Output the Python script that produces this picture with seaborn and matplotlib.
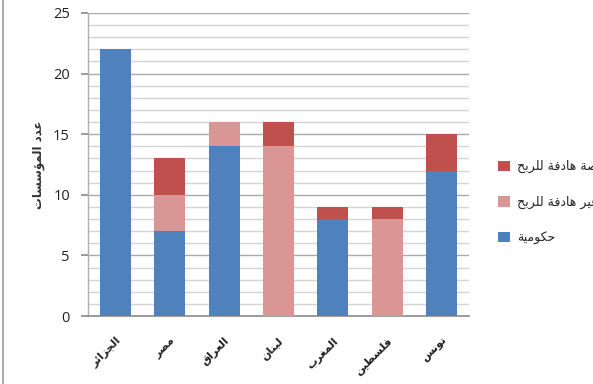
import matplotlib
matplotlib.use("Agg")
import matplotlib.pyplot as plt
import seaborn as sns
import numpy as np
import pandas as pd
from matplotlib.ticker import MultipleLocator
from matplotlib.patches import Patch
from matplotlib.lines import Line2D

# ---- data ----
countries = ["الجزائر", "مصر", "العراق", "لبنان", "المغرب", "فلسطين", "تونس"]
gov = [22, 7, 14, 0, 8, 0, 12]          # حكومية
nonprofit = [0, 3, 2, 14, 0, 8, 0]      # خاصة غير هادفة للربح
profit = [0, 3, 0, 2, 1, 1, 3]          # خاصة هادفة للربح
series_names = ["خاصة هادفة للربح", "خاصة غير هادفة للربح", "حكومية"]
y_label = "عدد المؤسسات"
y_ticks = [0, 5, 10, 15, 20, 25]

# ---- minimal Arabic shaping (presentation forms) for matplotlib ----
FORMS = {
    '\u0627': ('\uFE8D', '\uFE8E', None, None),
    '\u0623': ('\uFE83', '\uFE84', None, None),
    '\u0624': ('\uFE85', '\uFE86', None, None),
    '\u0626': ('\uFE89', '\uFE8A', '\uFE8B', '\uFE8C'),
    '\u0628': ('\uFE8F', '\uFE90', '\uFE91', '\uFE92'),
    '\u0629': ('\uFE93', '\uFE94', None, None),
    '\u062A': ('\uFE95', '\uFE96', '\uFE97', '\uFE98'),
    '\u062C': ('\uFE9D', '\uFE9E', '\uFE9F', '\uFEA0'),
    '\u062D': ('\uFEA1', '\uFEA2', '\uFEA3', '\uFEA4'),
    '\u062E': ('\uFEA5', '\uFEA6', '\uFEA7', '\uFEA8'),
    '\u062F': ('\uFEA9', '\uFEAA', None, None),
    '\u0631': ('\uFEAD', '\uFEAE', None, None),
    '\u0632': ('\uFEAF', '\uFEB0', None, None),
    '\u0633': ('\uFEB1', '\uFEB2', '\uFEB3', '\uFEB4'),
    '\u0635': ('\uFEB9', '\uFEBA', '\uFEBB', '\uFEBC'),
    '\u0637': ('\uFEC1', '\uFEC2', '\uFEC3', '\uFEC4'),
    '\u0639': ('\uFEC9', '\uFECA', '\uFECB', '\uFECC'),
    '\u063A': ('\uFECD', '\uFECE', '\uFECF', '\uFED0'),
    '\u0641': ('\uFED1', '\uFED2', '\uFED3', '\uFED4'),
    '\u0642': ('\uFED5', '\uFED6', '\uFED7', '\uFED8'),
    '\u0643': ('\uFED9', '\uFEDA', '\uFEDB', '\uFEDC'),
    '\u0644': ('\uFEDD', '\uFEDE', '\uFEDF', '\uFEE0'),
    '\u0645': ('\uFEE1', '\uFEE2', '\uFEE3', '\uFEE4'),
    '\u0646': ('\uFEE5', '\uFEE6', '\uFEE7', '\uFEE8'),
    '\u0647': ('\uFEE9', '\uFEEA', '\uFEEB', '\uFEEC'),
    '\u0648': ('\uFEED', '\uFEEE', None, None),
    '\u064A': ('\uFEF1', '\uFEF2', '\uFEF3', '\uFEF4'),
}


def shape(s):
    out = []
    n = len(s)
    for i, c in enumerate(s):
        f = FORMS.get(c)
        if f is None:
            out.append(c)
            continue
        prev = s[i - 1] if i > 0 else None
        nxt = s[i + 1] if i + 1 < n else None
        jp = prev is not None and prev in FORMS and FORMS[prev][2] is not None
        jn = f[2] is not None and nxt is not None and nxt in FORMS
        if jp and jn:
            out.append(f[3])
        elif jp:
            out.append(f[1])
        elif jn:
            out.append(f[2])
        else:
            out.append(f[0])
    return "".join(out)[::-1]


# ---- style ----
sns.set_theme(style="white")
plt.rcParams["font.family"] = ["Open Sans", "DejaVu Sans"]

c_gov = "#4F81BD"
c_np = "#D99694"
c_p = "#C0504D"

labels = [shape(c) for c in countries]
df = pd.DataFrame({"country": labels, "gov": gov, "np": nonprofit, "p": profit})
df["s2"] = df["gov"] + df["np"]
df["s3"] = df["s2"] + df["p"]

fig = plt.figure(figsize=(5.93, 3.84), dpi=100)
ax = fig.add_axes([88 / 593, 1 - 316 / 384, 381 / 593, 303 / 384])

bw = 0.57
sns.barplot(data=df, x="country", y="s3", color=c_p, saturation=1, width=bw,
            linewidth=0, ax=ax, zorder=3)
sns.barplot(data=df, x="country", y="s2", color=c_np, saturation=1, width=bw,
            linewidth=0, ax=ax, zorder=3)
sns.barplot(data=df, x="country", y="gov", color=c_gov, saturation=1, width=bw,
            linewidth=0, ax=ax, zorder=3)

ax.set_ylim(0, 25)
ax.set_xlim(-0.5, len(countries) - 0.5)
ax.set_yticks(y_ticks)
ax.yaxis.set_minor_locator(MultipleLocator(1))
ax.set_axisbelow(True)
ax.grid(which="minor", axis="y", color="#d4d4d4", lw=1.0, zorder=0)
ax.grid(which="major", axis="y", color="#a9a9a9", lw=1.0, zorder=0)

for s in ["top", "right"]:
    ax.spines[s].set_visible(False)
ax.spines["left"].set_color("#b0b0b0")
ax.spines["bottom"].set_color("#8c8c8c")
ax.spines["left"].set_linewidth(1.0)
ax.spines["bottom"].set_linewidth(1.2)

ax.tick_params(axis="y", which="major", direction="out", length=5, color="#8c8c8c",
               labelsize=10.5, labelcolor="#222222", pad=8, left=True)
ax.tick_params(axis="y", which="minor", length=0)
ax.tick_params(axis="x", length=0, pad=14)

ax.set_xlabel("")
ax.set_ylabel(shape(y_label), fontsize=8.5, fontweight="bold", color="#333333",
              labelpad=6, family=["DejaVu Sans"])
ax.set_xticks(range(len(labels)))
ax.set_xticklabels(labels, rotation=45, ha="right", rotation_mode="anchor",
                   fontsize=8, fontweight="bold", color="#222222",
                   family=["DejaVu Sans"])

handles = [Patch(facecolor=c_p, edgecolor="none"),
           Patch(facecolor=c_np, edgecolor="none"),
           Patch(facecolor=c_gov, edgecolor="none")]
fig.legend(handles, [shape(s) for s in series_names],
           loc="upper left", bbox_to_anchor=(487 / 593, 1 - 149 / 384),
           frameon=False, handlelength=0.9, handleheight=0.9,
           handletextpad=0.6, labelspacing=1.8,
           prop={"family": ["DejaVu Sans"], "size": 9})

# chart border on the left
fig.add_artist(Line2D([3 / 593, 3 / 593], [0, 1], transform=fig.transFigure,
                      color="#9a9a9a", lw=1.2))

fig.savefig("out.png", dpi=100)
